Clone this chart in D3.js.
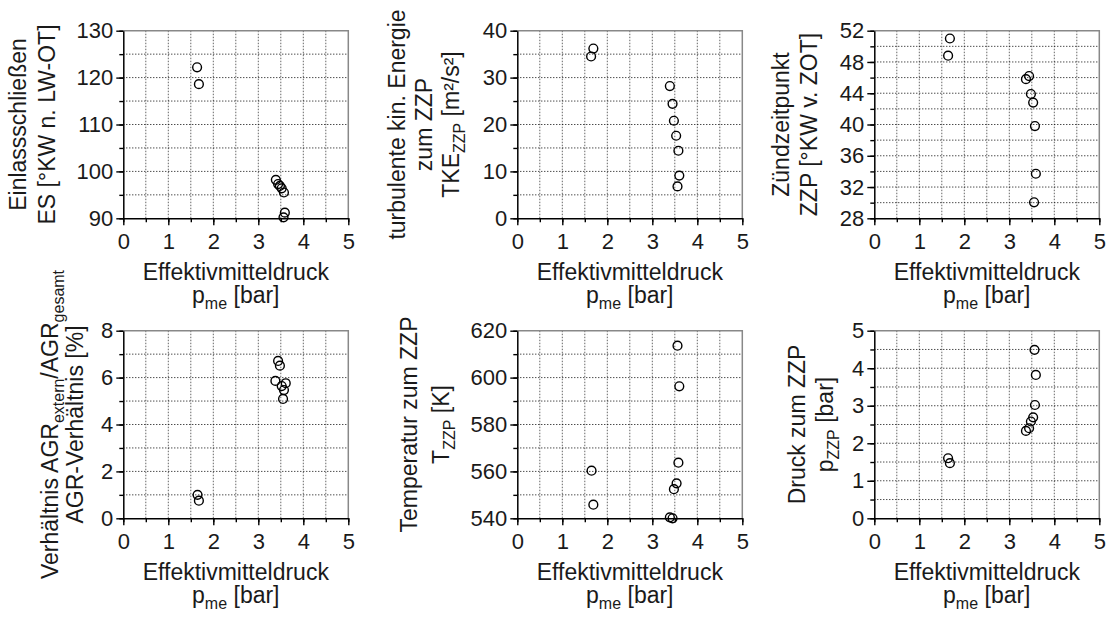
<!DOCTYPE html>
<html>
<head>
<meta charset="utf-8">
<script src="https://d3js.org/d3.v7.min.js"></script>
<style>
  body { margin: 0; background: #fff; }
  svg text { font-family: "Liberation Sans", Arial, sans-serif; fill: #1a1a1a; }
</style>
</head>
<body>
<svg id="chart" width="1111" height="617"></svg>
<script>
// x axis is the same for every panel
var xTicks = [0, 1, 2, 3, 4, 5];

// Einlassschliessen
var esPme = [1.64, 1.68, 3.39, 3.44, 3.48, 3.52, 3.57, 3.59, 3.56];
var esVal = [122.2, 118.6, 98.2, 97.3, 96.9, 96.4, 95.5, 91.2, 90.2];
var esTicks = [90, 100, 110, 120, 130];

// turbulente kin. Energie
var tkePme = [1.69, 1.64, 3.39, 3.45, 3.48, 3.53, 3.58, 3.60, 3.56];
var tkeVal = [36.2, 34.5, 28.2, 24.4, 20.8, 17.6, 14.4, 9.1, 6.8];
var tkeTicks = [0, 10, 20, 30, 40];

// Zuendzeitpunkt
var zzpPme = [1.68, 1.64, 3.37, 3.44, 3.48, 3.53, 3.57, 3.59, 3.55];
var zzpVal = [51.0, 48.8, 45.8, 46.2, 43.9, 42.8, 39.8, 33.7, 30.05];
var zzpTicks = [28, 32, 36, 40, 44, 48, 52];

// AGR-Verhaeltnis
var agrPme = [1.65, 1.68, 3.44, 3.48, 3.38, 3.52, 3.61, 3.57, 3.55];
var agrVal = [1.0, 0.75, 6.71, 6.51, 5.86, 5.64, 5.76, 5.47, 5.09];
var agrTicks = [0, 2, 4, 6, 8];

// Temperatur zum ZZP
var tPme = [1.65, 1.69, 3.56, 3.60, 3.58, 3.54, 3.48, 3.39, 3.45];
var tVal = [560.3, 545.8, 613.6, 596.3, 563.7, 554.9, 552.4, 540.4, 540.0];
var tTicks = [540, 560, 580, 600, 620];

// Druck zum ZZP
var pPme = [1.64, 1.68, 3.56, 3.59, 3.57, 3.53, 3.48, 3.44, 3.37];
var pVal = [1.60, 1.47, 4.49, 3.82, 3.02, 2.69, 2.58, 2.40, 2.33];
var pTicks = [0, 1, 2, 3, 4, 5];

var W = 225, H = 187.6;
var svg = d3.select("#chart");
var plain = function(d) { return String(d); };

// label lines: list of [text, "n" | "sub"] pieces
var panels = [
  {left: 123.3, top: 30.7, xs: esPme, ys: esVal, ticks: esTicks, labelX: [26, 55],
   label: [[["Einlassschließen","n"]], [["ES [°KW n. LW-OT]","n"]]]},
  {left: 517.3, top: 30.7, xs: tkePme, ys: tkeVal, ticks: tkeTicks, labelX: [405, 432, 459],
   label: [[["turbulente kin. Energie","n"]], [["zum ZZP","n"]],
           [["TKE","n"],["ZZP","sub"],[" [m²/s²]","n"]]]},
  {left: 874.3, top: 30.7, xs: zzpPme, ys: zzpVal, ticks: zzpTicks, labelX: [789, 817],
   label: [[["Zündzeitpunkt","n"]], [["ZZP [°KW v. ZOT]","n"]]]},
  {left: 123.3, top: 330.7, xs: agrPme, ys: agrVal, ticks: agrTicks, labelX: [58, 83],
   label: [[["Verhältnis AGR","n"],["extern","sub"],["/AGR","n"],["gesamt","sub"]],
           [["AGR-Verhältnis [%]","n"]]]},
  {left: 517.3, top: 330.7, xs: tPme, ys: tVal, ticks: tTicks, labelX: [417, 449],
   label: [[["Temperatur zum ZZP","n"]], [["T","n"],["ZZP","sub"],[" [K]","n"]]]},
  {left: 874.3, top: 330.7, xs: pPme, ys: pVal, ticks: pTicks, labelX: [805, 833],
   label: [[["Druck zum ZZP","n"]], [["p","n"],["ZZP","sub"],[" [bar]","n"]]]}
];

function addPieces(text, pieces) {
  var shifted = false;
  pieces.forEach(function(p) {
    var t = text.append("tspan").text(p[0]);
    if (p[1] == "sub" && !shifted) { t.attr("dy", 6).style("font-size", "16px"); shifted = true; }
    else if (p[1] == "sub") { t.style("font-size", "16px"); }
    else if (shifted) { t.attr("dy", -6); shifted = false; }
  });
}

panels.forEach(function(cfg) {
  var g = svg.append("g").attr("transform", "translate(" + cfg.left + "," + cfg.top + ")");
  var x = d3.scaleLinear().domain([0, 5]).range([0, W]);
  var yMin = cfg.ticks[0], yMax = cfg.ticks[cfg.ticks.length - 1];
  var y = d3.scaleLinear().domain([yMin, yMax]).range([H, 0]);
  var step = (cfg.ticks[1] - cfg.ticks[0]) / 2;
  var yMinor = d3.range(yMin, yMax + step / 10, step);
  var xMinor = d3.range(0, 5.01, 0.5);

  // dotted grid
  g.selectAll(".vg").data(xMinor.filter(function(d) { return d > 0 && d < 5; }))
    .enter().append("line")
    .attr("x1", function(d) { return x(d); }).attr("x2", function(d) { return x(d); })
    .attr("y1", 0).attr("y2", H)
    .attr("stroke", "#666").attr("stroke-width", 1).attr("stroke-dasharray", "1.5,1.5");
  g.selectAll(".hg").data(yMinor.filter(function(d) { return d > yMin && d < yMax; }))
    .enter().append("line")
    .attr("x1", 0).attr("x2", W)
    .attr("y1", function(d) { return y(d); }).attr("y2", function(d) { return y(d); })
    .attr("stroke", "#000").attr("stroke-width", 1).attr("stroke-dasharray", "1,2");

  // grey frame top/right
  g.append("path").attr("d", "M0,0H" + W + "V" + H)
    .attr("fill", "none").attr("stroke", "#888").attr("stroke-width", 1.5);

  // minor ticks
  g.append("g").attr("transform", "translate(0," + H + ")")
    .call(d3.axisBottom(x).tickValues(xMinor).tickSize(4).tickSizeOuter(0).tickFormat(""))
    .call(function(a) { a.select(".domain").remove(); });
  g.append("g")
    .call(d3.axisLeft(y).tickValues(yMinor).tickSize(4).tickSizeOuter(0).tickFormat(""))
    .call(function(a) { a.select(".domain").remove(); });

  // major axes
  var xa = g.append("g").attr("transform", "translate(0," + H + ")")
    .call(d3.axisBottom(x).tickValues(xTicks).tickFormat(plain).tickSize(7).tickSizeOuter(0).tickPadding(8));
  var ya = g.append("g")
    .call(d3.axisLeft(y).tickValues(cfg.ticks).tickFormat(plain).tickSize(7).tickSizeOuter(0).tickPadding(3));
  [xa, ya].forEach(function(a) {
    a.selectAll("text").style("font-size", "22px").attr("fill", "#1a1a1a");
    a.select(".domain").attr("stroke", "#000").attr("stroke-width", 1.5);
  });
  g.selectAll(".tick line").attr("stroke", "#000").attr("stroke-width", 1.4);

  // points
  g.selectAll("circle").data(cfg.xs).enter().append("circle")
    .attr("cx", function(d) { return x(d); })
    .attr("cy", function(d, i) { return y(cfg.ys[i]); })
    .attr("r", 4.4)
    .attr("fill", "none").attr("stroke", "#000").attr("stroke-width", 1.4);

  // x label
  g.append("text").attr("x", W / 2).attr("y", 280 - 30.7)
    .attr("text-anchor", "middle").style("font-size", "23px").text("Effektivmitteldruck");
  var xl = g.append("text").attr("x", W / 2).attr("y", 303 - 30.7)
    .attr("text-anchor", "middle").style("font-size", "23px");
  addPieces(xl, [["p","n"],["me","sub"],[" [bar]","n"]]);

  // y label, rotated, one text per line
  cfg.label.forEach(function(line, i) {
    var t = svg.append("text")
      .attr("transform", "translate(" + cfg.labelX[i] + "," + (cfg.top + H / 2) + ") rotate(-90)")
      .attr("text-anchor", "middle").style("font-size", "23px");
    addPieces(t, line);
  });
});
</script>
</body>
</html>
